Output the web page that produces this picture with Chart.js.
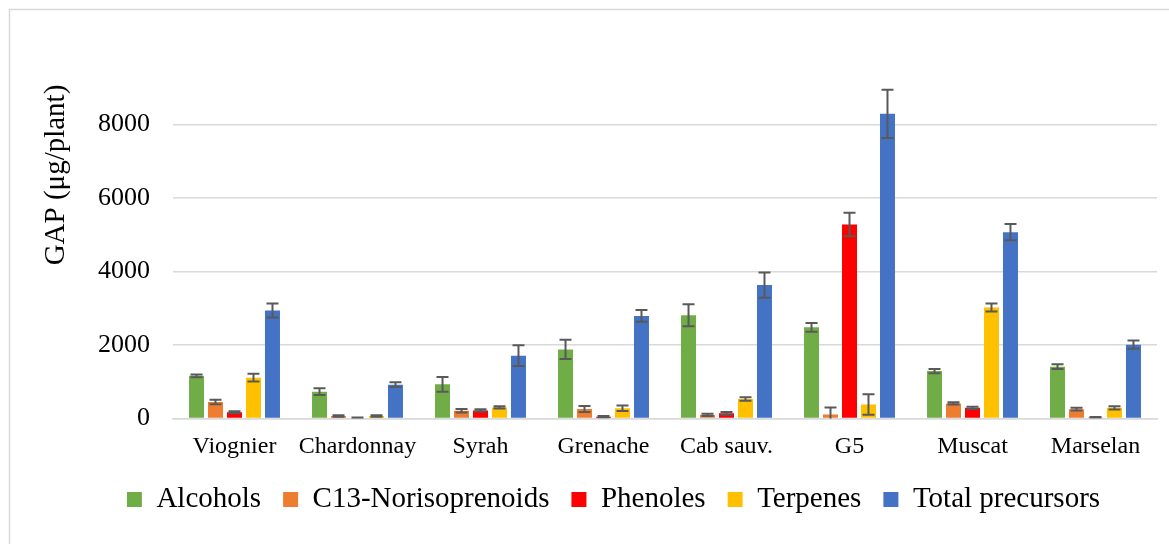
<!DOCTYPE html>
<html>
<head>
<meta charset="utf-8">
<script src="https://cdn.jsdelivr.net/npm/chart.js@4.4.1/dist/chart.umd.min.js"></script>
<style>
  html, body { margin: 0; padding: 0; background: #fff; }
  #wrap { position: relative; width: 1169px; height: 544px; }
</style>
</head>
<body>
<div id="wrap"><canvas id="c" width="1169" height="544"></canvas></div>
<script>
const categories = ['Viognier', 'Chardonnay', 'Syrah', 'Grenache', 'Cab sauv.', 'G5', 'Muscat', 'Marselan'];
const seriesNames = ['Alcohols', 'C13-Norisoprenoids', 'Phenoles', 'Terpenes', 'Total precursors'];
const alcohols      = [1160, 730, 930, 1880, 2810, 2480, 1290, 1410];
const alcoholsErr   = [40, 90, 200, 260, 300, 120, 60, 65];
const norisoprenoids    = [450, 70, 210, 260, 100, 110, 410, 255];
const norisoprenoidsErr = [60, 20, 50, 80, 30, 190, 30, 40];
const phenoles      = [170, 20, 220, 50, 140, 5280, 290, 30];
const phenolesErr   = [30, 10, 30, 20, 40, 320, 30, 10];
const terpenes      = [1110, 70, 300, 280, 530, 380, 3020, 290];
const terpenesErr   = [105, 20, 30, 75, 45, 280, 110, 45];
const totalPrecursors    = [2940, 920, 1710, 2790, 3630, 8290, 5070, 2010];
const totalPrecursorsErr = [190, 65, 280, 160, 345, 655, 220, 115];
const yTicks = [0, 2000, 4000, 6000, 8000];
const yTitle = 'GAP (μg/plant)';

const colors = ['#70AD47', '#ED7D31', '#FF0000', '#FFC000', '#4472C4'];
const values = [alcohols, norisoprenoids, phenoles, terpenes, totalPrecursors];
const errors = [alcoholsErr, norisoprenoidsErr, phenolesErr, terpenesErr, totalPrecursorsErr];
const FONT = '"Liberation Serif", "Times New Roman", serif';

const datasets = seriesNames.map((name, i) => ({
  label: name,
  data: values[i],
  errors: errors[i],
  backgroundColor: colors[i],
  borderWidth: 0,
  categoryPercentage: 0.772,
  barPercentage: 0.79
}));

const frame = {
  id: 'frame',
  beforeDraw(chart) {
    const ctx = chart.ctx;
    ctx.save();
    ctx.strokeStyle = '#d9d9d9';
    ctx.lineWidth = 1.5;
    ctx.strokeRect(9.5, 9.5, 1300, 700);
    ctx.restore();
  }
};

const yTitlePlugin = {
  id: 'yTitle',
  afterDraw(chart) {
    const ctx = chart.ctx;
    ctx.save();
    ctx.translate(56, 175);
    ctx.rotate(-Math.PI / 2);
    ctx.font = '29px ' + FONT;
    ctx.fillStyle = '#000';
    ctx.textAlign = 'center';
    ctx.textBaseline = 'middle';
    ctx.fillText(yTitle, 0, 0);
    ctx.restore();
  }
};

const errorBars = {
  id: 'errorBars',
  afterDatasetsDraw(chart) {
    const ctx = chart.ctx;
    const y = chart.scales.y;
    const area = chart.chartArea;
    ctx.save();
    ctx.beginPath();
    ctx.rect(area.left, area.top, area.right - area.left, area.bottom - area.top);
    ctx.clip();
    ctx.strokeStyle = '#595959';
    ctx.lineWidth = 2;
    chart.data.datasets.forEach((ds, di) => {
      const meta = chart.getDatasetMeta(di);
      meta.data.forEach((bar, j) => {
        const v = ds.data[j], e = ds.errors[j];
        const yh = y.getPixelForValue(v + e);
        const yl = y.getPixelForValue(v - e);
        const x = bar.x;
        const cw = 6;
        ctx.beginPath();
        ctx.moveTo(x, yh); ctx.lineTo(x, yl);
        ctx.moveTo(x - cw, yh); ctx.lineTo(x + cw, yh);
        ctx.moveTo(x - cw, yl); ctx.lineTo(x + cw, yl);
        ctx.stroke();
      });
    });
    ctx.restore();
  }
};

new Chart(document.getElementById('c'), {
  type: 'bar',
  data: { labels: categories, datasets },
  options: {
    responsive: false,
    animation: false,
    devicePixelRatio: 1,
    layout: { padding: { top: 51, right: 12, bottom: 20, left: 70 } },
    plugins: {
      legend: {
        position: 'bottom',
        labels: {
          font: { family: FONT, size: 29 },
          color: '#000',
          boxWidth: 15,
          boxHeight: 15,
          padding: 22
        }
      },
      tooltip: { enabled: false }
    },
    scales: {
      x: {
        grid: { display: false, drawTicks: false },
        border: { display: true, color: '#d9d9d9', width: 1.5 },
        ticks: {
          font: { family: FONT, size: 24 }, color: '#000', padding: 14,
          maxRotation: 0, minRotation: 0, autoSkip: false
        },
        afterFit(s) { s.height = 44.5; }
      },
      y: {
        min: 0,
        max: 10000,
        afterBuildTicks(s) { s.ticks = yTicks.concat([10000]).map(v => ({ value: v })); },
        grid: {
          drawTicks: false,
          color: ctx => (ctx.tick && ctx.tick.value === 10000) ? 'rgba(0,0,0,0)' : '#d9d9d9',
          lineWidth: 1.5
        },
        border: { display: false },
        ticks: {
          font: { family: FONT, size: 26 },
          color: '#000',
          padding: 23,
          callback: v => (yTicks.includes(v) ? String(v) : '')
        },
        afterFit(s) { s.width = 103; }
      }
    }
  },
  plugins: [frame, errorBars, yTitlePlugin]
});
</script>
</body>
</html>
